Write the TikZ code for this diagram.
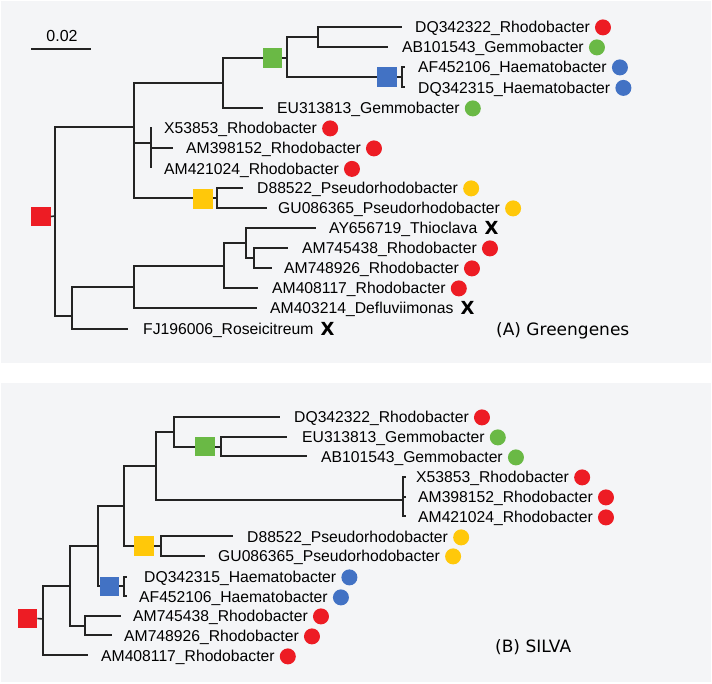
\documentclass[tikz,border=0pt]{standalone}
\usepackage{fontspec}
\setmainfont{Liberation Sans}
\newfontfamily\titlefont{DejaVu Sans}
\newfontfamily\xfont{DejaVu Sans}
\definecolor{cred}{RGB}{237,28,36}
\definecolor{cgreen}{RGB}{106,185,69}
\definecolor{cblue}{RGB}{66,114,196}
\definecolor{cyellow}{RGB}{255,200,10}
\definecolor{cbg}{RGB}{244,245,247}
\definecolor{cline}{RGB}{35,35,35}
\newcommand{\tiplab}[5]{\node[lbl] (#1) at (#2,#3+5.6) {#4};
  \node[tipdot=#5] (#1d) at ([xshift=13pt,yshift=5.2pt]#1.base east) {};}
\newcommand{\tipx}[4]{\node[lbl] (#1) at (#2,#3+5.6) {#4};
  \node[xmark] (#1d) at ([xshift=14pt,yshift=5.6pt]#1.base east) {X};}
\begin{document}
\begin{tikzpicture}[x=1pt,y=-1pt,
  branch/.style={line width=1.6pt,draw=cline},
  lbl/.style={anchor=base west,inner sep=0pt,font=\fontsize{15.7}{18}\selectfont},
  tipdot/.style={circle,fill=#1,minimum size=16pt,inner sep=0pt},
  sqbox/.style={rectangle,fill=#1,minimum size=19.5pt,inner sep=0pt},
  xmark/.style={inner sep=0pt,font=\xfont\bfseries\fontsize{18}{18}\selectfont},
  ptitle/.style={anchor=base west,inner sep=0pt,font=\titlefont\fontsize{17}{20}\selectfont}]
\useasboundingbox (0,0) rectangle (712,684);
\fill[white] (0,0) rectangle (712,684);
\fill[cbg] (1,1) rectangle (711,363);
\fill[cbg] (1,383) rectangle (711,682);

% ---------- Panel A ----------
\coordinate (sb1) at (31,49); \coordinate (sb2) at (91,49);
\draw[branch] (sb1) -- (sb2);
\node[anchor=base,inner sep=0pt,font=\fontsize{16}{18}\selectfont] (sbl) at (62,41.5) {0.02};

\coordinate (rA) at (55,216);
\coordinate (A1) at (134,127);
\coordinate (A11) at (223,83);
\coordinate (tEUa) at (263,108);
\coordinate (A111) at (287,58);
\coordinate (A1111) at (318,37);
\coordinate (tDQ322a) at (402,27);
\coordinate (tABa) at (388,47);
\coordinate (A1112) at (402,77);
\coordinate (tAFa) at (405,67);
\coordinate (tDQ315a) at (405,87);
\coordinate (A12) at (151,143);
\coordinate (tXa) at (151,127);
\coordinate (tAM398a) at (173,148);
\coordinate (tAM421a) at (151,168);
\coordinate (A13) at (217,198);
\coordinate (tD88a) at (243,188);
\coordinate (tGUa) at (267,208);
\coordinate (A2) at (72,316);
\coordinate (tFJa) at (128,329);
\coordinate (A21) at (134,287);
\coordinate (tAM403a) at (257,308);
\coordinate (A211) at (224,266);
\coordinate (tAM408a) at (258,288);
\coordinate (A2111) at (246,243);
\coordinate (tAYa) at (316,228);
\coordinate (A21111) at (254,258);
\coordinate (tAM745a) at (288,248);
\coordinate (tAM748a) at (272,268);

\draw[branch] (rA) |- (A1); \draw[branch] (rA) |- (A2);
\draw[branch] (A1) |- (A11); \draw[branch] (A1) |- (A12); \draw[branch] (A1) |- (A13);
\draw[branch] (A11) |- (tEUa); \draw[branch] (A11) |- (A111);
\draw[branch] (A111) |- (A1111); \draw[branch] (A111) |- (A1112);
\draw[branch] (A1111) |- (tDQ322a); \draw[branch] (A1111) |- (tABa);
\draw[branch] (A1112) |- (tAFa); \draw[branch] (A1112) |- (tDQ315a);
\draw[branch] (A12) |- (tXa); \draw[branch] (A12) |- (tAM421a);
\draw[branch] (A12) ++(0,5) coordinate (A12b) -- (tAM398a);
\draw[branch] (A13) |- (tD88a); \draw[branch] (A13) |- (tGUa);
\draw[branch] (A2) |- (tFJa); \draw[branch] (A2) |- (A21);
\draw[branch] (A21) |- (tAM403a); \draw[branch] (A21) |- (A211);
\draw[branch] (A211) |- (tAM408a); \draw[branch] (A211) |- (A2111);
\draw[branch] (A2111) |- (tAYa); \draw[branch] (A2111) |- (A21111);
\draw[branch] (A21111) |- (tAM745a); \draw[branch] (A21111) |- (tAM748a);

\node[sqbox=cred] (sqA) at (41,216.5) {};
\draw[branch] (sqA.east) -- (rA);
\node[sqbox=cgreen] (sqGa) at (272.5,58) {};
\node[sqbox=cblue] (sqBa) at (387,77) {};
\node[sqbox=cyellow] (sqYa) at (203,199) {};

\tiplab{lDQ322a}{415}{27}{DQ342322\_Rhodobacter}{cred}
\tiplab{lABa}{402}{47}{AB101543\_Gemmobacter}{cgreen}
\tiplab{lAFa}{418}{67}{AF452106\_Haematobacter}{cblue}
\tiplab{lDQ315a}{418}{87.5}{DQ342315\_Haematobacter}{cblue}
\tiplab{lEUa}{277}{108}{EU313813\_Gemmobacter}{cgreen}
\tiplab{lXa}{164}{128}{X53853\_Rhodobacter}{cred}
\tiplab{lAM398a}{186}{148}{AM398152\_Rhodobacter}{cred}
\tiplab{lAM421a}{164}{168.5}{AM421024\_Rhodobacter}{cred}
\tiplab{lD88a}{257}{188}{D88522\_Pseudorhodobacter}{cyellow}
\tiplab{lGUa}{278}{208}{GU086365\_Pseudorhodobacter}{cyellow}
\tipx{lAYa}{329}{228}{AY656719\_Thioclava}
\tiplab{lAM745a}{302}{248}{AM745438\_Rhodobacter}{cred}
\tiplab{lAM748a}{284}{268}{AM748926\_Rhodobacter}{cred}
\tiplab{lAM408a}{272}{288}{AM408117\_Rhodobacter}{cred}
\tipx{lAM403a}{270}{308}{AM403214\_Defluviimonas}
\tipx{lFJa}{143}{328.5}{FJ196006\_Roseicitreum}
\node[ptitle] (titA) at (496,335.2) {(A) Greengenes};

% ---------- Panel B ----------
\coordinate (rB) at (43,619);
\coordinate (B1) at (70,586);
\coordinate (B11) at (98,546);
\coordinate (B111) at (124,506);
\coordinate (B1111) at (156,466);
\coordinate (B11111) at (174,432);
\coordinate (tDQ322b) at (280,417);
\coordinate (B111111) at (221,447);
\coordinate (tEUb) at (287,437);
\coordinate (tABb) at (307,456);
\coordinate (B11112) at (403,500);
\coordinate (tXb) at (406,477);
\coordinate (tAM398b) at (406,497);
\coordinate (tAM421b) at (406,516);
\coordinate (B1112) at (161,546);
\coordinate (tD88b) at (233,536);
\coordinate (tGUb) at (205,556);
\coordinate (B112) at (124,586);
\coordinate (tDQ315b) at (127,577);
\coordinate (tAFb) at (127,596);
\coordinate (B12) at (85,626);
\coordinate (tAM745b) at (121,616);
\coordinate (tAM748b) at (112,635);
\coordinate (tAM408b) at (88,655);

\draw[branch] (rB) |- (B1); \draw[branch] (rB) |- (tAM408b);
\draw[branch] (B1) |- (B11); \draw[branch] (B1) |- (B12);
\draw[branch] (B11) |- (B111); \draw[branch] (B11) |- (B112);
\draw[branch] (B111) |- (B1111); \draw[branch] (B111) |- (B1112);
\draw[branch] (B1111) |- (B11111); \draw[branch] (B1111) |- (B11112);
\draw[branch] (B11111) |- (tDQ322b); \draw[branch] (B11111) |- (B111111);
\draw[branch] (B111111) |- (tEUb); \draw[branch] (B111111) |- (tABb);
\draw[branch] (B11112) |- (tXb); \draw[branch] (B11112) |- (tAM398b); \draw[branch] (B11112) |- (tAM421b);
\draw[branch] (B1112) |- (tD88b); \draw[branch] (B1112) |- (tGUb);
\draw[branch] (B112) |- (tDQ315b); \draw[branch] (B112) |- (tAFb);
\draw[branch] (B12) |- (tAM745b); \draw[branch] (B12) |- (tAM748b);

\node[sqbox=cred] (sqB) at (27.5,618.5) {};
\draw[branch] (sqB.east) -- (rB);
\node[sqbox=cgreen] (sqGb) at (205,446.5) {};
\node[sqbox=cyellow] (sqYb) at (144,546) {};
\node[sqbox=cblue] (sqBb) at (109.5,586.5) {};

\tiplab{lDQ322b}{294}{417}{DQ342322\_Rhodobacter}{cred}
\tiplab{lEUb}{302}{437}{EU313813\_Gemmobacter}{cgreen}
\tiplab{lABb}{321}{457}{AB101543\_Gemmobacter}{cgreen}
\tiplab{lXb}{416}{477}{X53853\_Rhodobacter}{cred}
\tiplab{lAM398b}{418}{497}{AM398152\_Rhodobacter}{cred}
\tiplab{lAM421b}{418}{517}{AM421024\_Rhodobacter}{cred}
\tiplab{lD88b}{247}{537}{D88522\_Pseudorhodobacter}{cyellow}
\tiplab{lGUb}{218}{556}{GU086365\_Pseudorhodobacter}{cyellow}
\tiplab{lDQ315b}{144}{577}{DQ342315\_Haematobacter}{cblue}
\tiplab{lAFb}{139}{597}{AF452106\_Haematobacter}{cblue}
\tiplab{lAM745b}{133}{616}{AM745438\_Rhodobacter}{cred}
\tiplab{lAM748b}{124}{636}{AM748926\_Rhodobacter}{cred}
\tiplab{lAM408b}{101}{656}{AM408117\_Rhodobacter}{cred}
\node[ptitle] (titB) at (495,652.2) {(B) SILVA};
\end{tikzpicture}
\end{document}
